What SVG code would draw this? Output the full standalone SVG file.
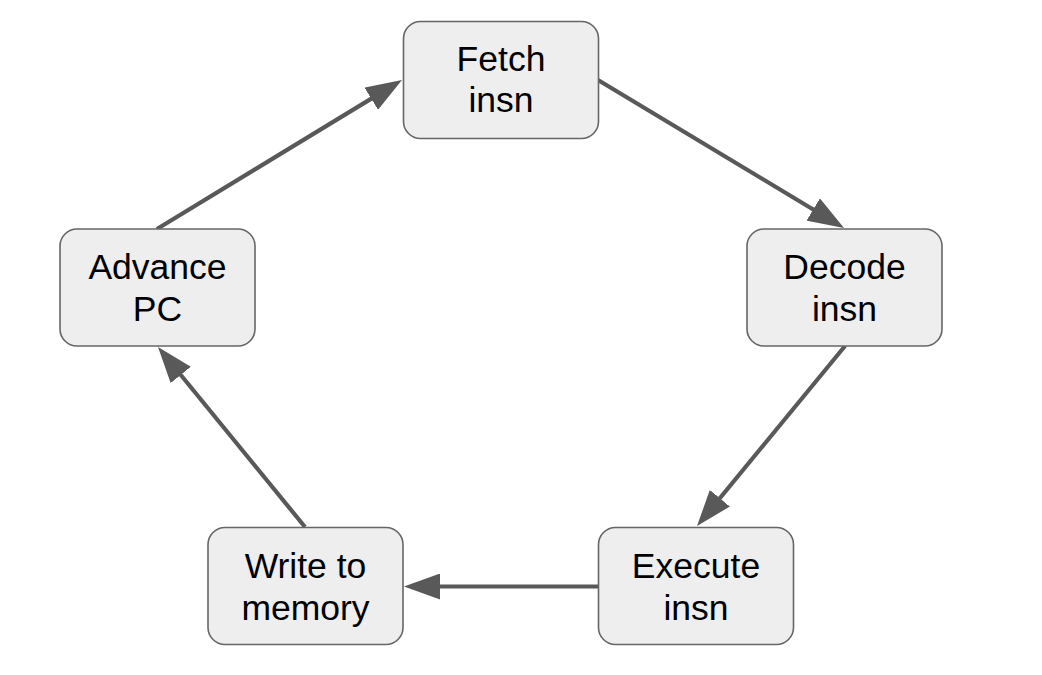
<svg xmlns="http://www.w3.org/2000/svg" width="1042" height="675" viewBox="0 0 1042 675">
<style>
.box{fill:#eeeeee;stroke:#666666;stroke-width:1.6}
.lbl{font-family:"Liberation Sans",Arial,sans-serif;font-size:35.5px;fill:#000;text-anchor:middle}
.edge{stroke:#595959;stroke-width:4.2;fill:none;marker-end:url(#ah)}
</style>
<defs>
<marker id="ah" markerUnits="userSpaceOnUse" viewBox="0 0 36 26" markerWidth="36" markerHeight="26" refX="16" refY="13" orient="auto">
<path d="M0,0 L36,13 L0,26 z" fill="#595959"/>
</marker>
</defs>
<rect width="1042" height="675" fill="#ffffff"/>
<g id="connectors">
<line class="edge" x1="157" y1="229" x2="384.9" y2="90.4"/>
<line class="edge" x1="598" y1="80" x2="826.9" y2="217.7"/>
<line class="edge" x1="845" y1="346" x2="709.7" y2="510.6"/>
<line class="edge" x1="598" y1="586.5" x2="424" y2="586.5"/>
<line class="edge" x1="305" y1="527" x2="170.65" y2="362.5"/>
</g>
<g id="fetch">
<rect class="box" x="403.5" y="21.5" width="195" height="117" rx="17"/>
<text class="lbl" x="501" y="71">Fetch</text>
<text class="lbl" x="501" y="112">insn</text>
</g>
<g id="decode">
<rect class="box" x="747" y="229" width="195" height="117" rx="17"/>
<text class="lbl" x="844.5" y="279">Decode</text>
<text class="lbl" x="844.5" y="321">insn</text>
</g>
<g id="execute">
<rect class="box" x="598.5" y="527.5" width="195" height="117" rx="17"/>
<text class="lbl" x="696" y="578">Execute</text>
<text class="lbl" x="696" y="620">insn</text>
</g>
<g id="write">
<rect class="box" x="208" y="527.5" width="195" height="117" rx="17"/>
<text class="lbl" x="305.5" y="578">Write to</text>
<text class="lbl" x="305.5" y="620">memory</text>
</g>
<g id="advance">
<rect class="box" x="60" y="229" width="195" height="117" rx="17"/>
<text class="lbl" x="157.5" y="279">Advance</text>
<text class="lbl" x="157.5" y="321">PC</text>
</g>
</svg>
